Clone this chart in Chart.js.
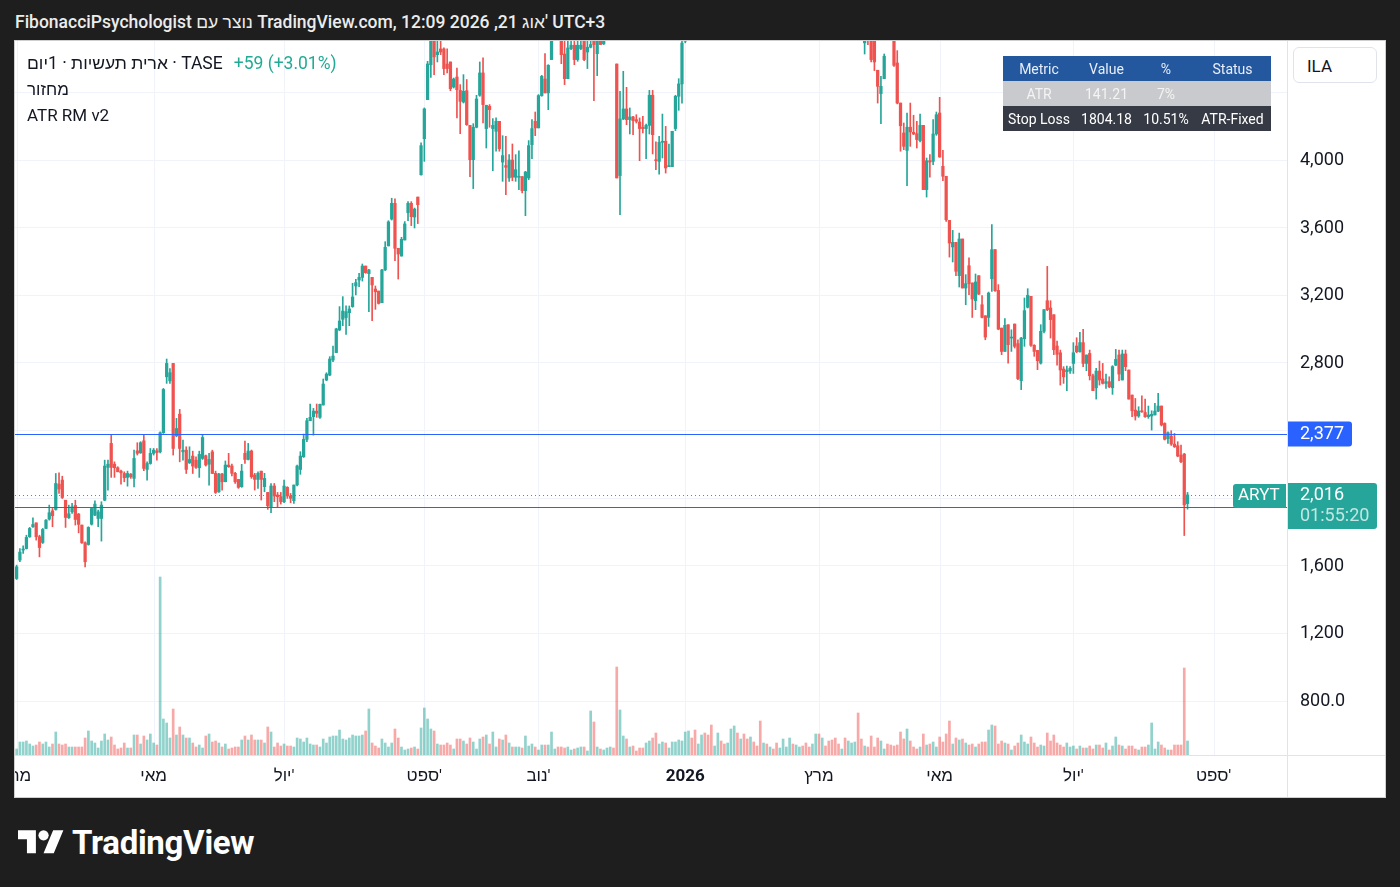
<!DOCTYPE html>
<html>
<head>
<meta charset="utf-8">
<title>ARYT / 1D</title>
<script src="https://cdn.jsdelivr.net/npm/chart.js@4.4.1/dist/chart.umd.min.js"></script>
<style>
  body { margin: 0; width: 1400px; height: 887px; background: #1e1e1e; overflow: hidden;
         font-family: Roboto, "Liberation Sans", "DejaVu Sans", sans-serif; }
  #title { position: absolute; left: 15px; top: 12px; color: #ececec; font-size: 17.5px; font-weight: 500; white-space: nowrap; }
  #frame { position: absolute; left: 15px; top: 41px; width: 1370px; height: 756px; background: #fff; }
  #frame canvas { position: absolute; left: 0; top: 0; }
  #border { position: absolute; left: 14px; top: 40px; width: 1370px; height: 756px; border: 1px solid #cfcfcf; pointer-events: none; }
  .leg { position: absolute; left: 27px; color: #131722; font-size: 17px; white-space: nowrap; }
  .leg .he { font-size: 17.5px; }
  .leg .chg { color: #22ab94; margin-left: 11px; font-size: 17.5px; }
  #atr { position: absolute; left: 1003px; top: 56px; border-collapse: collapse; font-size: 14px; color: #fff; }
  #atr td { height: 25px; padding: 0 4px; text-align: center; white-space: nowrap; }
  #atr tr.h td { background: #23579e; color: #e8eefa; }
  #atr tr.g td { background: #c9cacd; color: #f4f4f4; }
  #atr tr.d td { background: #363a45; color: #fff; }
  #ila { position: absolute; left: 1293px; top: 47px; width: 84px; height: 36px; border: 1px solid #e0e3eb;
         border-radius: 6px; background: #fff; font-size: 17px; color: #131722; line-height: 36px; padding-left: 13px; box-sizing: border-box; }
  #logo { position: absolute; left: 18px; top: 823px; display: flex; align-items: center; color: #fff; }
  #logo span { font-size: 33px; font-weight: 700; margin-left: 8px; letter-spacing: -0.3px; }
</style>
</head>
<body>
<div id="title">FibonacciPsychologist נוצר עם TradingView.com, 12:09 2026 ,21 אוג' UTC+3</div>
<div id="frame"><canvas id="c"></canvas></div>
<div id="border"></div>
<div class="leg" style="top:53px"><span class="he">ארית תעשיות · 1יום · TASE</span><span class="chg">+59 (+3.01%)</span></div>
<div class="leg" style="top:79px">מחזור</div>
<div class="leg" style="top:105px">ATR RM v2</div>
<table id="atr">
  <tr class="h"><td style="width:64px">Metric</td><td style="width:55px">Value</td><td style="width:48px">%</td><td style="width:69px">Status</td></tr>
  <tr class="g"><td>ATR</td><td>141.21</td><td>7%</td><td></td></tr>
  <tr class="d"><td>Stop Loss</td><td>1804.18</td><td>10.51%</td><td>ATR-Fixed</td></tr>
</table>
<div id="ila">ILA</div>
<div id="logo">
  <svg width="46" height="36" viewBox="0 0 36 28"><path fill="#fff" d="M14 22H7V11H0V4h14v18zM28 22h-8l7.5-18h8L28 22z"/><circle fill="#fff" cx="20" cy="8" r="4"/></svg>
  <span>TradingView</span>
</div>

<script>
// daily candles, Mar 2025 .. Aug 2026 (ILA)
const opens = [
  1522,1631,1690,1699,1769,1828,1851,1769,1735,1818,1873,1922,1930,2080,2104,1985,1881,1916,1954,1903,
  1838,1733,1723,1843,1897,1877,1877,1985,2179,2321,2198,2177,2157,2143,2120,2139,2114,2277,2265,2336,
  2167,2202,2262,2277,2271,2384,2715,2691,2794,2366,2494,2271,2281,2206,2246,2222,2177,2232,2248,2198,
  2271,2144,2035,2140,2094,2193,2187,2144,2108,2065,2262,2226,2276,2134,2108,2157,2065,2031,1946,2069,
  2016,2006,1976,2061,2010,1982,2075,2167,2242,2345,2455,2479,2512,2475,2548,2696,2725,2814,2858,2992,
  3055,3065,3094,3130,3252,3287,3303,3370,3325,3303,3234,3222,3153,3347,3489,3648,3741,3475,3429,3524,
  3686,3741,3660,3778,3910,4123,4354,4561,4760,4620,4654,4654,4565,4577,4429,4488,4409,4340,4407,4202,
  3999,4191,4380,4512,4183,4315,4183,4167,4226,3985,3964,3891,3997,3895,3895,3899,3816,3891,4088,4226,
  4187,4378,4476,4394,4591,4750,4810,4740,4624,4478,4656,4676,4591,4656,4750,4636,4664,4740,4626,4750,
  4684,4730,4790,4850,4565,3905,4240,4299,4236,4252,4236,4222,4191,4183,4202,4380,3997,3989,4102,4108,
  3958,3958,4183,4374,4447,4700,4760,4830,4800,4770,4840,4900,4870,4820,4790,4850,4920,4880,4860,4950,
  5020,5060,5010,5080,5040,4990,5050,5000,4960,4920,4970,4940,4980,4950,4930,4980,5030,5070,5110,5080,
  5120,5150,5110,5080,5050,5090,5130,5090,5120,5070,5030,4990,4950,4910,4950,4870,4900,4930,4960,4890,
  4690,4790,4760,4720,4528,4390,4478,4790,4760,4780,4571,4334,4157,4054,4191,4161,4153,4112,4202,3822,
  3993,3989,4151,4275,3960,3901,3640,3483,3510,3313,3530,3240,3372,3270,3165,3313,3141,3076,3066,3295,
  3467,3226,3003,2865,3023,2944,3027,2911,2692,2940,3126,3191,2901,2871,2796,2984,3165,3122,3082,2897,
  2857,2761,2745,2749,2794,2897,2863,2917,2794,2853,2721,2650,2749,2702,2676,2686,2650,2784,2844,2696,
  2850,2755,2607,2518,2483,2514,2504,2479,2483,2489,2512,2542,2439,2349,2364,2317,2307,2252,2258,1965
];
const highs = [
  1601,1699,1715,1778,1824,1881,1851,1778,1818,1871,1956,1936,2143,2147,2127,1985,1956,1966,1985,1907,
  1838,1739,1828,1936,1982,1926,1976,2222,2222,2370,2212,2183,2163,2153,2157,2143,2281,2325,2331,2374,
  2212,2291,2291,2291,2390,2646,2820,2764,2794,2469,2522,2340,2301,2301,2275,2242,2275,2370,2252,2262,
  2281,2157,2144,2144,2217,2262,2199,2150,2108,2197,2335,2321,2282,2144,2153,2157,2144,2031,2084,2084,
  2031,2031,2104,2065,2025,2075,2193,2272,2376,2469,2554,2528,2554,2554,2702,2739,2834,2897,3002,3130,
  3189,3134,3134,3268,3291,3327,3382,3370,3351,3303,3252,3222,3351,3514,3638,3771,3767,3475,3540,3633,
  3751,3751,3713,3778,4098,4305,4581,4800,4800,4710,4700,4660,4654,4577,4482,4541,4443,4502,4473,4202,
  4212,4380,4577,4601,4321,4325,4242,4246,4226,4141,4137,4029,4092,4029,4052,3899,3930,4112,4236,4281,
  4384,4498,4626,4561,4800,4860,4840,4780,4760,4750,4730,4730,4740,4720,4770,4720,4720,4760,4780,4790,
  4760,4820,4880,4870,4565,4403,4522,4427,4305,4256,4265,4246,4256,4210,4409,4409,4104,4137,4269,4196,
  4092,4167,4380,4478,4740,4800,4850,4850,4820,4860,4920,4930,4890,4840,4870,4940,4950,4900,4970,5040,
  5090,5080,5100,5100,5060,5070,5070,5020,4990,4990,4990,5000,5000,4970,5000,5050,5090,5130,5130,5140,
  5180,5170,5130,5100,5110,5150,5150,5140,5130,5090,5050,5010,4970,4970,4960,4920,4950,4980,4970,4900,
  4800,4820,4780,4770,4528,4492,4624,4830,4800,4800,4644,4334,4216,4275,4334,4262,4226,4269,4202,4009,
  4029,4236,4281,4368,4054,3901,3640,3581,3510,3565,3530,3319,3418,3270,3323,3313,3195,3076,3216,3615,
  3467,3260,3003,3059,3023,2993,3027,2934,2948,3181,3236,3191,2905,2871,3023,3112,3368,3165,3082,2926,
  2873,2775,2779,2775,2917,2946,2978,2995,2844,2873,2731,2765,2808,2794,2731,2715,2781,2877,2873,2873,
  2873,2755,2607,2587,2538,2603,2583,2542,2514,2558,2617,2542,2443,2390,2396,2380,2331,2311,2262,2031
];
const lows = [
  1516,1621,1670,1696,1765,1824,1749,1650,1729,1816,1867,1828,1926,2025,1995,1824,1877,1907,1838,1792,
  1729,1591,1719,1838,1893,1828,1743,1982,2045,2120,2120,2153,2080,2094,2068,2114,2064,2252,2262,2159,
  2104,2198,2252,2222,2265,2380,2676,2676,2252,2360,2212,2222,2143,2202,2143,2173,2120,2226,2187,2074,
  2143,2025,2031,2045,2094,2179,2128,2085,2055,2061,2203,2223,2114,2045,2055,1986,2035,1931,1911,1976,
  1946,1962,1970,1996,1970,1966,2069,2138,2238,2331,2455,2370,2475,2469,2548,2692,2721,2804,2858,2988,
  3017,2966,3017,3126,3199,3248,3281,3327,3100,3047,3114,3145,3153,3343,3489,3642,3402,3293,3429,3524,
  3638,3609,3595,3621,3907,3989,4354,4486,4502,4577,4620,4502,4512,4407,4423,4246,4153,4334,4202,3899,
  3828,4187,4374,4216,4068,4191,3934,4049,4049,3871,3792,3871,3875,3871,3822,3802,3668,3881,4005,4141,
  4187,4374,4394,4295,4591,4740,4745,4567,4443,4478,4650,4561,4581,4650,4585,4538,4660,4348,4496,4680,
  4680,4715,4770,4760,3891,3674,4236,4206,4151,4147,4216,3993,4157,4005,4151,4033,3940,3914,4009,3920,
  3958,3958,4171,4291,4334,4690,4740,4780,4750,4755,4830,4850,4800,4770,4780,4840,4860,4840,4850,4940,
  5000,4990,5000,5020,4970,4980,4980,4940,4880,4900,4920,4930,4930,4910,4920,4970,5020,5060,5060,5070,
  5110,5090,5060,5030,5040,5080,5070,5080,5050,5010,4970,4930,4890,4900,4850,4860,4890,4920,4880,4750,
  4624,4680,4577,4526,4334,4212,4478,4740,4730,4551,4329,4049,4058,3845,4078,4147,4068,4104,3822,3778,
  3895,3970,4143,4013,3875,3634,3423,3394,3313,3246,3240,3141,3201,3066,3112,3201,3063,2934,3013,3220,
  3220,2993,2846,2865,2796,2865,2885,2698,2639,2895,3122,2895,2836,2757,2790,2974,3106,2944,2846,2784,
  2666,2676,2633,2735,2735,2857,2861,2775,2751,2696,2633,2583,2666,2672,2646,2650,2611,2781,2692,2696,
  2751,2583,2479,2459,2475,2504,2475,2469,2400,2489,2508,2424,2341,2321,2309,2297,2242,2207,1776,1932
];
const closes = [
  1591,1678,1696,1765,1818,1841,1769,1705,1812,1867,1911,1893,2084,2051,2001,1883,1905,1946,1871,1842,
  1733,1621,1824,1936,1962,1916,1956,2187,2198,2179,2177,2153,2147,2118,2143,2123,2232,2262,2325,2173,
  2202,2262,2281,2267,2384,2640,2794,2739,2291,2409,2291,2281,2167,2226,2187,2179,2256,2356,2193,2226,
  2143,2031,2140,2094,2193,2183,2144,2094,2061,2157,2226,2276,2124,2108,2144,2108,2114,1952,2069,2010,
  2006,1976,2069,2010,1996,2075,2187,2246,2345,2455,2475,2512,2499,2552,2672,2731,2820,2838,2998,3045,
  3104,3100,3116,3187,3272,3303,3370,3331,3347,3258,3218,3149,3347,3481,3631,3741,3475,3441,3528,3619,
  3741,3662,3707,3733,4082,4299,4565,4740,4607,4636,4636,4538,4538,4419,4476,4413,4344,4403,4206,3999,
  4191,4358,4512,4325,4321,4295,4202,4226,4064,4023,3954,3997,3895,3940,3899,3816,3926,4082,4183,4187,
  4378,4492,4394,4557,4730,4810,4770,4620,4478,4660,4676,4591,4676,4676,4591,4664,4680,4680,4740,4680,
  4730,4790,4850,4780,3891,4240,4299,4236,4252,4230,4226,4183,4183,4202,4380,4147,3993,4102,4108,3950,
  3964,4167,4374,4447,4689,4760,4830,4800,4770,4840,4900,4870,4820,4790,4850,4920,4880,4860,4950,5020,
  5060,5010,5080,5040,4990,5050,5000,4960,4920,4970,4940,4980,4950,4930,4980,5030,5070,5110,5080,5120,
  5150,5110,5080,5050,5090,5130,5090,5120,5070,5030,4990,4950,4910,4950,4870,4900,4930,4960,4890,4770,
  4780,4740,4591,4577,4433,4433,4611,4760,4745,4557,4334,4200,4078,4191,4163,4151,4118,4202,3822,3993,
  3985,4151,4265,4015,3901,3644,3506,3510,3339,3530,3240,3266,3266,3175,3276,3204,3066,2950,3210,3467,
  3224,2997,2865,3019,2905,2950,2895,2704,2944,3106,3197,2901,2865,2810,2984,3112,3112,3053,2875,2848,
  2755,2715,2755,2765,2857,2863,2917,2794,2844,2721,2633,2749,2696,2676,2686,2656,2775,2818,2731,2850,
  2775,2583,2514,2483,2512,2508,2479,2489,2493,2512,2542,2430,2345,2384,2317,2301,2246,2213,1957,2016
];
// volume, thousands of shares
const volumes = [
  6,13,13,14,11,9,10,13,11,13,8,11,23,11,10,11,8,8,8,8,
  8,17,24,14,12,7,14,21,15,18,10,6,7,12,7,7,20,20,11,19,
  15,21,12,10,178,36,32,17,46,20,28,20,17,17,12,8,10,7,19,21,
  13,14,12,8,11,6,7,8,8,15,19,15,20,15,15,15,12,28,23,8,
  12,9,11,9,9,8,17,16,13,17,11,10,10,8,16,12,18,19,19,25,
  16,15,17,20,19,19,20,24,46,12,9,7,16,12,8,12,26,17,8,5,
  6,7,8,6,27,47,36,26,24,11,10,10,12,10,6,16,16,14,11,17,
  13,6,16,18,20,11,23,8,16,15,20,12,8,8,8,7,19,9,11,8,
  5,10,10,10,23,6,8,8,7,8,5,6,7,8,8,4,44,33,8,6,
  5,7,8,7,88,45,19,16,8,9,4,7,7,12,14,17,22,11,13,12,
  7,13,13,15,14,23,24,17,25,11,20,22,20,30,9,22,14,11,12,26,
  29,22,16,21,16,18,13,9,34,12,11,8,6,12,7,16,8,17,11,10,
  8,9,12,8,11,21,21,17,9,14,15,17,11,6,17,14,12,13,42,16,
  9,8,19,8,17,14,6,11,10,9,10,23,16,26,14,8,6,8,21,10,
  11,13,8,18,13,21,34,11,17,15,16,12,10,11,8,11,13,13,25,30,
  29,11,14,12,11,5,9,12,20,13,11,18,12,8,10,9,22,14,20,12,
  10,8,12,8,9,6,9,7,7,9,6,10,10,7,12,5,9,18,10,9,
  6,9,9,6,5,8,8,10,32,6,13,10,7,5,5,10,10,10,87,14
];
const emptySlots = 30;            // blank space right of the last bar
const monthSlots = [0, 42, 82, 125, 160, 205, 246, 283, 324, 367];
const monthNames = ['מרץ', 'מאי', "יול'", "ספט'", "נוב'", '2026', 'מרץ', 'מאי', "יול'", "ספט'"];
const priceTicks = [800, 1200, 1600, 2000, 2400, 2800, 3200, 3600, 4000, 4400];
const priceLabels = ['800.0', '1,200', '1,600', '', '', '2,800', '3,200', '3,600', '4,000', ''];
const levelLine = 2377;
const supportLine = 1942;
const lastPrice = 2016;
const countdown = '01:55:20';

const UP = '#26a69a', DOWN = '#ef5350';
const UP_V = 'rgba(38,166,154,0.5)', DOWN_V = 'rgba(239,83,80,0.5)';
const FONT = 'Roboto, "Liberation Sans", "DejaVu Sans", sans-serif';

const n = closes.length;
const slots = Array.from({length: n + emptySlots}, (_, i) => String(i));
const isUp = closes.map((c, i) => c >= opens[i]);
const fmt = v => v.toLocaleString('en-US');

const overlay = {
  id: 'overlay',
  beforeDatasetsDraw(chart) {
    const {ctx, chartArea: a, scales: {x, y}} = chart;
    ctx.save();
    ctx.strokeStyle = '#f0f3fa';
    ctx.lineWidth = 1;
    ctx.beginPath();
    monthSlots.forEach(s => {
      const px = Math.round(x.getPixelForValue(s)) + 0.5;
      ctx.moveTo(px, a.top); ctx.lineTo(px, a.bottom);
    });
    priceTicks.forEach(v => {
      const py = Math.round(y.getPixelForValue(v)) + 0.5;
      ctx.moveTo(a.left, py); ctx.lineTo(a.right, py);
    });
    ctx.stroke();
    ctx.restore();
  },
  afterDatasetsDraw(chart) {
    const {ctx, chartArea: a, scales: {y}} = chart;
    ctx.save();
    ctx.lineWidth = 1;
    [levelLine, supportLine].forEach(p => {
      const py = Math.round(y.getPixelForValue(p)) + 0.5;
      ctx.strokeStyle = '#2962ff';
      ctx.beginPath(); ctx.moveTo(a.left, py); ctx.lineTo(a.right, py); ctx.stroke();
    });
    const ly = Math.round(y.getPixelForValue(lastPrice)) + 0.5;
    ctx.strokeStyle = UP;
    ctx.setLineDash([1, 3]);
    ctx.beginPath(); ctx.moveTo(a.left, ly); ctx.lineTo(a.right, ly); ctx.stroke();
    ctx.restore();
  },
  afterDraw(chart) {
    const {ctx, chartArea: a, scales: {x, y}} = chart;
    ctx.save();
    // axis separators
    ctx.strokeStyle = '#e0e3eb';
    ctx.lineWidth = 1;
    ctx.beginPath();
    ctx.moveTo(a.right + 0.5, 0); ctx.lineTo(a.right + 0.5, chart.height);
    ctx.moveTo(0, a.bottom + 0.5); ctx.lineTo(chart.width, a.bottom + 0.5);
    ctx.stroke();
    // time axis
    ctx.fillStyle = '#131722';
    ctx.textAlign = 'center';
    ctx.textBaseline = 'middle';
    monthSlots.forEach((s, i) => {
      ctx.font = (monthNames[i] === '2026' ? 'bold ' : '') + '17px ' + FONT;
      ctx.fillText(monthNames[i], x.getPixelForValue(s), a.bottom + 22);
    });
    // price axis
    ctx.textAlign = 'left';
    ctx.font = '18px ' + FONT;
    priceTicks.forEach((v, i) => {
      if (priceLabels[i]) ctx.fillText(priceLabels[i], a.right + 13, y.getPixelForValue(v) + 1);
    });
    const ay = y.getPixelForValue(levelLine);
    ctx.fillStyle = '#2962ff';
    ctx.beginPath(); ctx.roundRect(a.right + 1, ay - 12.5, 64, 25, [0, 3, 3, 0]); ctx.fill();
    ctx.fillStyle = '#fff';
    ctx.fillText(fmt(levelLine), a.right + 13, ay + 1);

    const py = y.getPixelForValue(lastPrice);
    ctx.fillStyle = UP;
    ctx.beginPath(); ctx.roundRect(a.right + 1, py - 12, 89, 46, [0, 3, 3, 0]); ctx.fill();
    ctx.beginPath(); ctx.roundRect(a.right - 54, py - 11, 53, 24, [3, 0, 0, 3]); ctx.fill();
    ctx.fillStyle = '#fff';
    ctx.fillText(fmt(lastPrice), a.right + 13, py + 1);
    ctx.font = '17px ' + FONT;
    ctx.fillText('ARYT', a.right - 49, py + 1);
    ctx.fillStyle = 'rgba(255,255,255,0.72)';
    ctx.font = '18px ' + FONT;
    ctx.fillText(countdown, a.right + 13, py + 22);
    ctx.restore();
  }
};

new Chart(document.getElementById('c'), {
  type: 'bar',
  data: {
    labels: slots,
    datasets: [
      {
        label: 'מחזור',
        data: volumes,
        yAxisID: 'yv',
        backgroundColor: isUp.map(u => u ? UP_V : DOWN_V),
        barThickness: 2,
        grouped: false,
        order: 3
      },
      {
        label: 'wick',
        data: lows.map((l, i) => [l, highs[i]]),
        yAxisID: 'y',
        backgroundColor: isUp.map(u => u ? UP : DOWN),
        barThickness: 1,
        grouped: false,
        order: 2
      },
      {
        label: 'body',
        data: opens.map((o, i) => [o, closes[i]]),
        yAxisID: 'y',
        backgroundColor: isUp.map(u => u ? UP : DOWN),
        barThickness: 2.6,
        minBarLength: 1,
        grouped: false,
        order: 1
      }
    ]
  },
  options: {
    responsive: true,
    maintainAspectRatio: false,
    animation: false,
    layout: { padding: { left: 0, top: 0, right: 98, bottom: 42 } },
    plugins: { legend: { display: false }, tooltip: { enabled: false } },
    scales: {
      x: { display: false, offset: true },
      y: { display: false, min: 478, max: 4701 },
      yv: { display: false, min: 0, max: 714 }
    }
  },
  plugins: [overlay]
});
</script>
</body>
</html>
